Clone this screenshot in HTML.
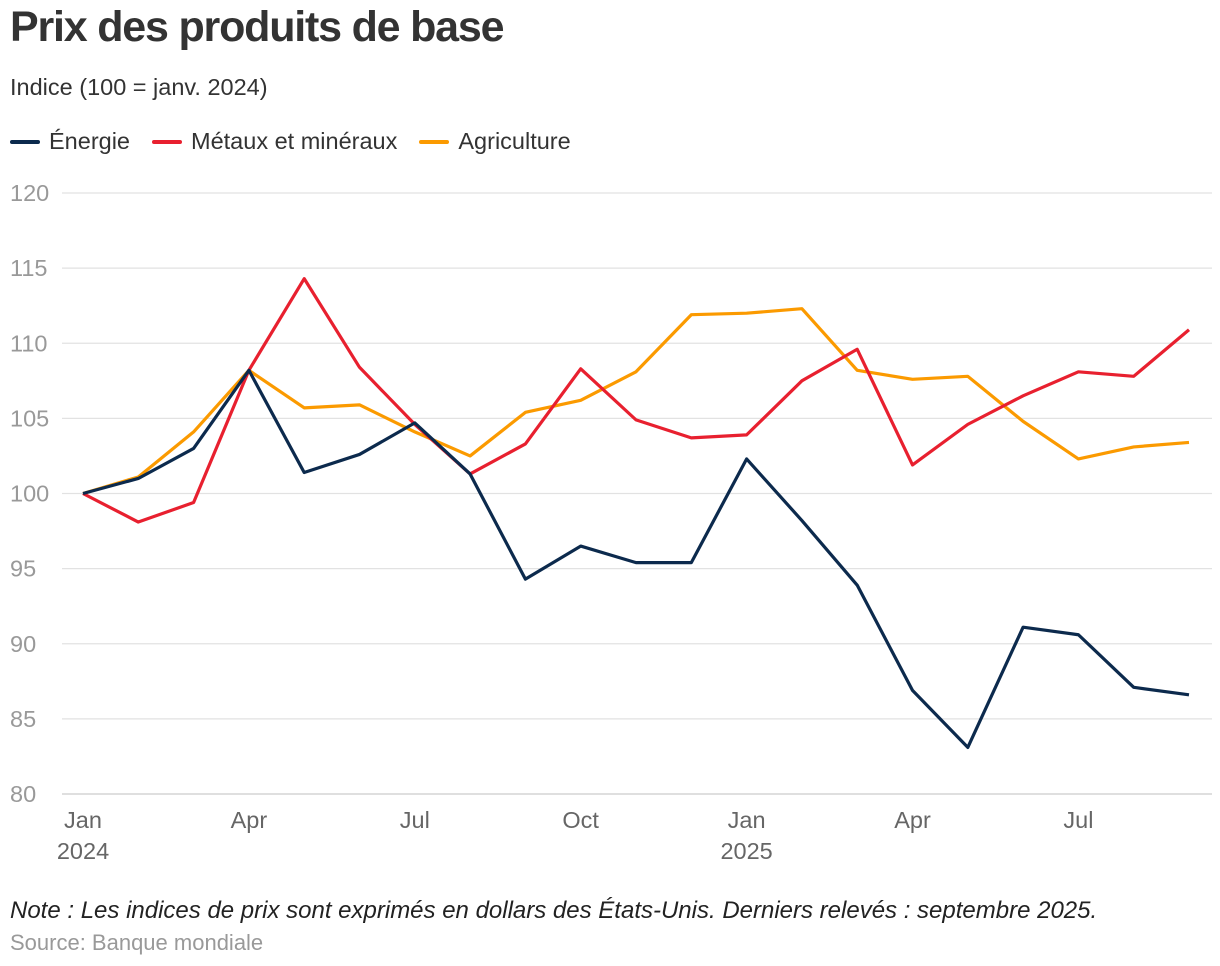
<!DOCTYPE html>
<html><head><meta charset="utf-8"><style>
body{margin:0;background:#fff;font-family:"Liberation Sans",Arial,sans-serif;color:#333;width:1220px;height:966px;overflow:hidden;position:relative}
.t{position:absolute;left:10px;top:3px;font-size:43px;font-weight:bold;letter-spacing:-1.2px;color:#333}
.s{position:absolute;left:10px;top:74px;font-size:23.5px;color:#333}
.lg{position:absolute;left:10px;top:128px;font-size:23.5px;display:flex;gap:22px}
.lg span{display:flex;align-items:center}
.lg i{display:inline-block;width:30px;height:4px;margin-right:9px;border-radius:2px}
.n{position:absolute;left:10px;top:897px;font-size:24px;font-style:italic;color:#222}
.src{position:absolute;left:10px;top:930px;font-size:22px;color:#999}
svg{position:absolute;left:0;top:0}
</style></head><body>
<div class="t">Prix des produits de base</div>
<div class="s">Indice (100 = janv. 2024)</div>
<div class="lg">
<span><i style="background:#0c2a4d"></i>Énergie</span>
<span><i style="background:#e8202f"></i>Métaux et minéraux</span>
<span><i style="background:#fb9a00"></i>Agriculture</span>
</div>
<svg id="c" width="1220" height="966"></svg>
<div class="n">Note : Les indices de prix sont exprimés en dollars des États-Unis. Derniers relevés : septembre 2025.</div>
<div class="src">Source: Banque mondiale</div>
<script>
const yTicks=[80,85,90,95,100,105,110,115,120];
const xTickIdx=[0,3,6,9,12,15,18];
const xTickLabels=["Jan","Apr","Jul","Oct","Jan","Apr","Jul"];
const xTickYears=["2024","","","","2025","",""];
const energie=[100,101,103,108.2,101.4,102.6,104.7,101.3,94.3,96.5,95.4,95.4,102.3,98.2,93.9,86.9,83.1,91.1,90.6,87.1,86.6];
const metaux=[100,98.1,99.4,108.2,114.3,108.4,104.6,101.3,103.3,108.3,104.9,103.7,103.9,107.5,109.6,101.9,104.6,106.5,108.1,107.8,110.9];
const agri=[100,101.1,104.1,108.2,105.7,105.9,104.1,102.5,105.4,106.2,108.1,111.9,112,112.3,108.2,107.6,107.8,104.8,102.3,103.1,103.4];
const NS="http://www.w3.org/2000/svg",svg=document.getElementById('c');
const x=i=>83+i*(1189-83)/20, y=v=>794-(v-80)*(794-193)/40;
function el(t,a){const e=document.createElementNS(NS,t);for(const k in a)e.setAttribute(k,a[k]);svg.appendChild(e);return e;}
yTicks.forEach(v=>{
 const l=el('line',{x1:62,x2:1212,y1:y(v),y2:y(v),stroke:v==80?'#ccc':'#e2e2e2','stroke-width':1.3});
 
 
 const t=el('text',{x:10,y:y(v)+8,'font-size':23.5,fill:'#999'});t.textContent=v;
 
 
});
xTickIdx.forEach((i,k)=>{
 const t=el('text',{x:x(i),y:828,'font-size':23.5,fill:'#666','text-anchor':'middle'});t.textContent=xTickLabels[k];
 
 
 if(xTickYears[k]){const u=el('text',{x:x(i),y:859,'font-size':23.5,fill:'#666','text-anchor':'middle'});u.textContent=xTickYears[k];
 
 }
});
[[agri,'#fb9a00','line-agriculture'],[metaux,'#e8202f','line-metaux'],[energie,'#0c2a4d','line-energie']].forEach(([d,c,n])=>{
 const p=el('polyline',{points:d.map((v,i)=>x(i)+','+y(v)).join(' '),fill:'none',stroke:c,'stroke-width':3.2,'stroke-linejoin':'round'});
 
 
});
</script>
</body></html>
